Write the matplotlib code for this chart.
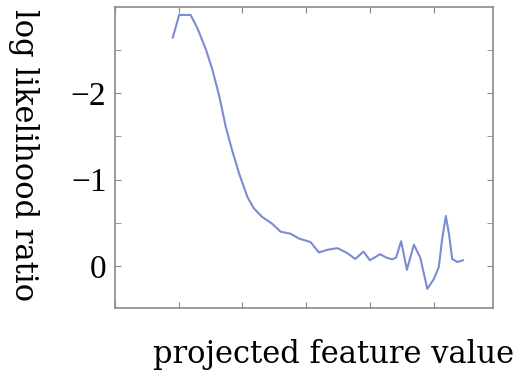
import matplotlib
matplotlib.use("Agg")
import matplotlib.pyplot as plt
from matplotlib.ticker import MultipleLocator, NullFormatter

# projected feature value vs log likelihood ratio
feature_value = [0.91, 1.01, 1.19, 1.30, 1.43, 1.53, 1.64, 1.74, 1.84, 1.95,
                 2.08, 2.18, 2.31, 2.47, 2.60, 2.76, 2.89, 3.07, 3.20, 3.33,
                 3.49, 3.64, 3.77, 3.90, 4.00, 4.16, 4.26, 4.35, 4.41, 4.49,
                 4.58, 4.69, 4.79, 4.90, 5.00, 5.08, 5.13, 5.19, 5.24, 5.29,
                 5.37, 5.46]
log_ratio = [-2.64, -2.90, -2.90, -2.74, -2.50, -2.27, -1.96, -1.61, -1.34, -1.07,
             -0.80, -0.67, -0.57, -0.49, -0.40, -0.375, -0.32, -0.28, -0.16, -0.19,
             -0.21, -0.155, -0.085, -0.17, -0.07, -0.14, -0.10, -0.08, -0.10, -0.29,
             0.04, -0.25, -0.10, 0.26, 0.15, 0.01, -0.30, -0.58, -0.375, -0.085,
             -0.05, -0.07]
y_ticks = [-2, -1, 0]
y_labels = ["\u22122", "\u22121", "0"]

plt.rcParams['font.family'] = ['DejaVu Serif']

fig = plt.figure(figsize=(5.27, 3.76), dpi=100)
ax = fig.add_axes([0.2177, 0.181, 0.7178, 0.8])

ax.plot(feature_value, log_ratio, color='#5b6fc6', linewidth=1.5, alpha=0.8)

ax.set_xlim(0.0, 5.93)
ax.set_ylim(0.48, -2.99)
ax.xaxis.set_major_locator(MultipleLocator(1))
ax.xaxis.set_major_formatter(NullFormatter())
ax.set_yticks(y_ticks)
ax.set_yticklabels(y_labels, family='Liberation Serif', fontsize=24)
ax.yaxis.set_minor_locator(MultipleLocator(0.5))
ax.tick_params(which='both', direction='in', length=4, color='#888888',
               top=True, right=True, pad=6)

for s in ax.spines.values():
    s.set_color('#8a8a8a')
    s.set_linewidth(1.2)

fig.text(334 / 527, 1 - 355 / 376, "projected feature value", fontsize=22,
         ha='center', va='center')
fig.text(23 / 527, 1 - 155 / 376, "log likelihood ratio", fontsize=22,
         ha='center', va='center', rotation=270)

fig.savefig("out.png", dpi=100)
